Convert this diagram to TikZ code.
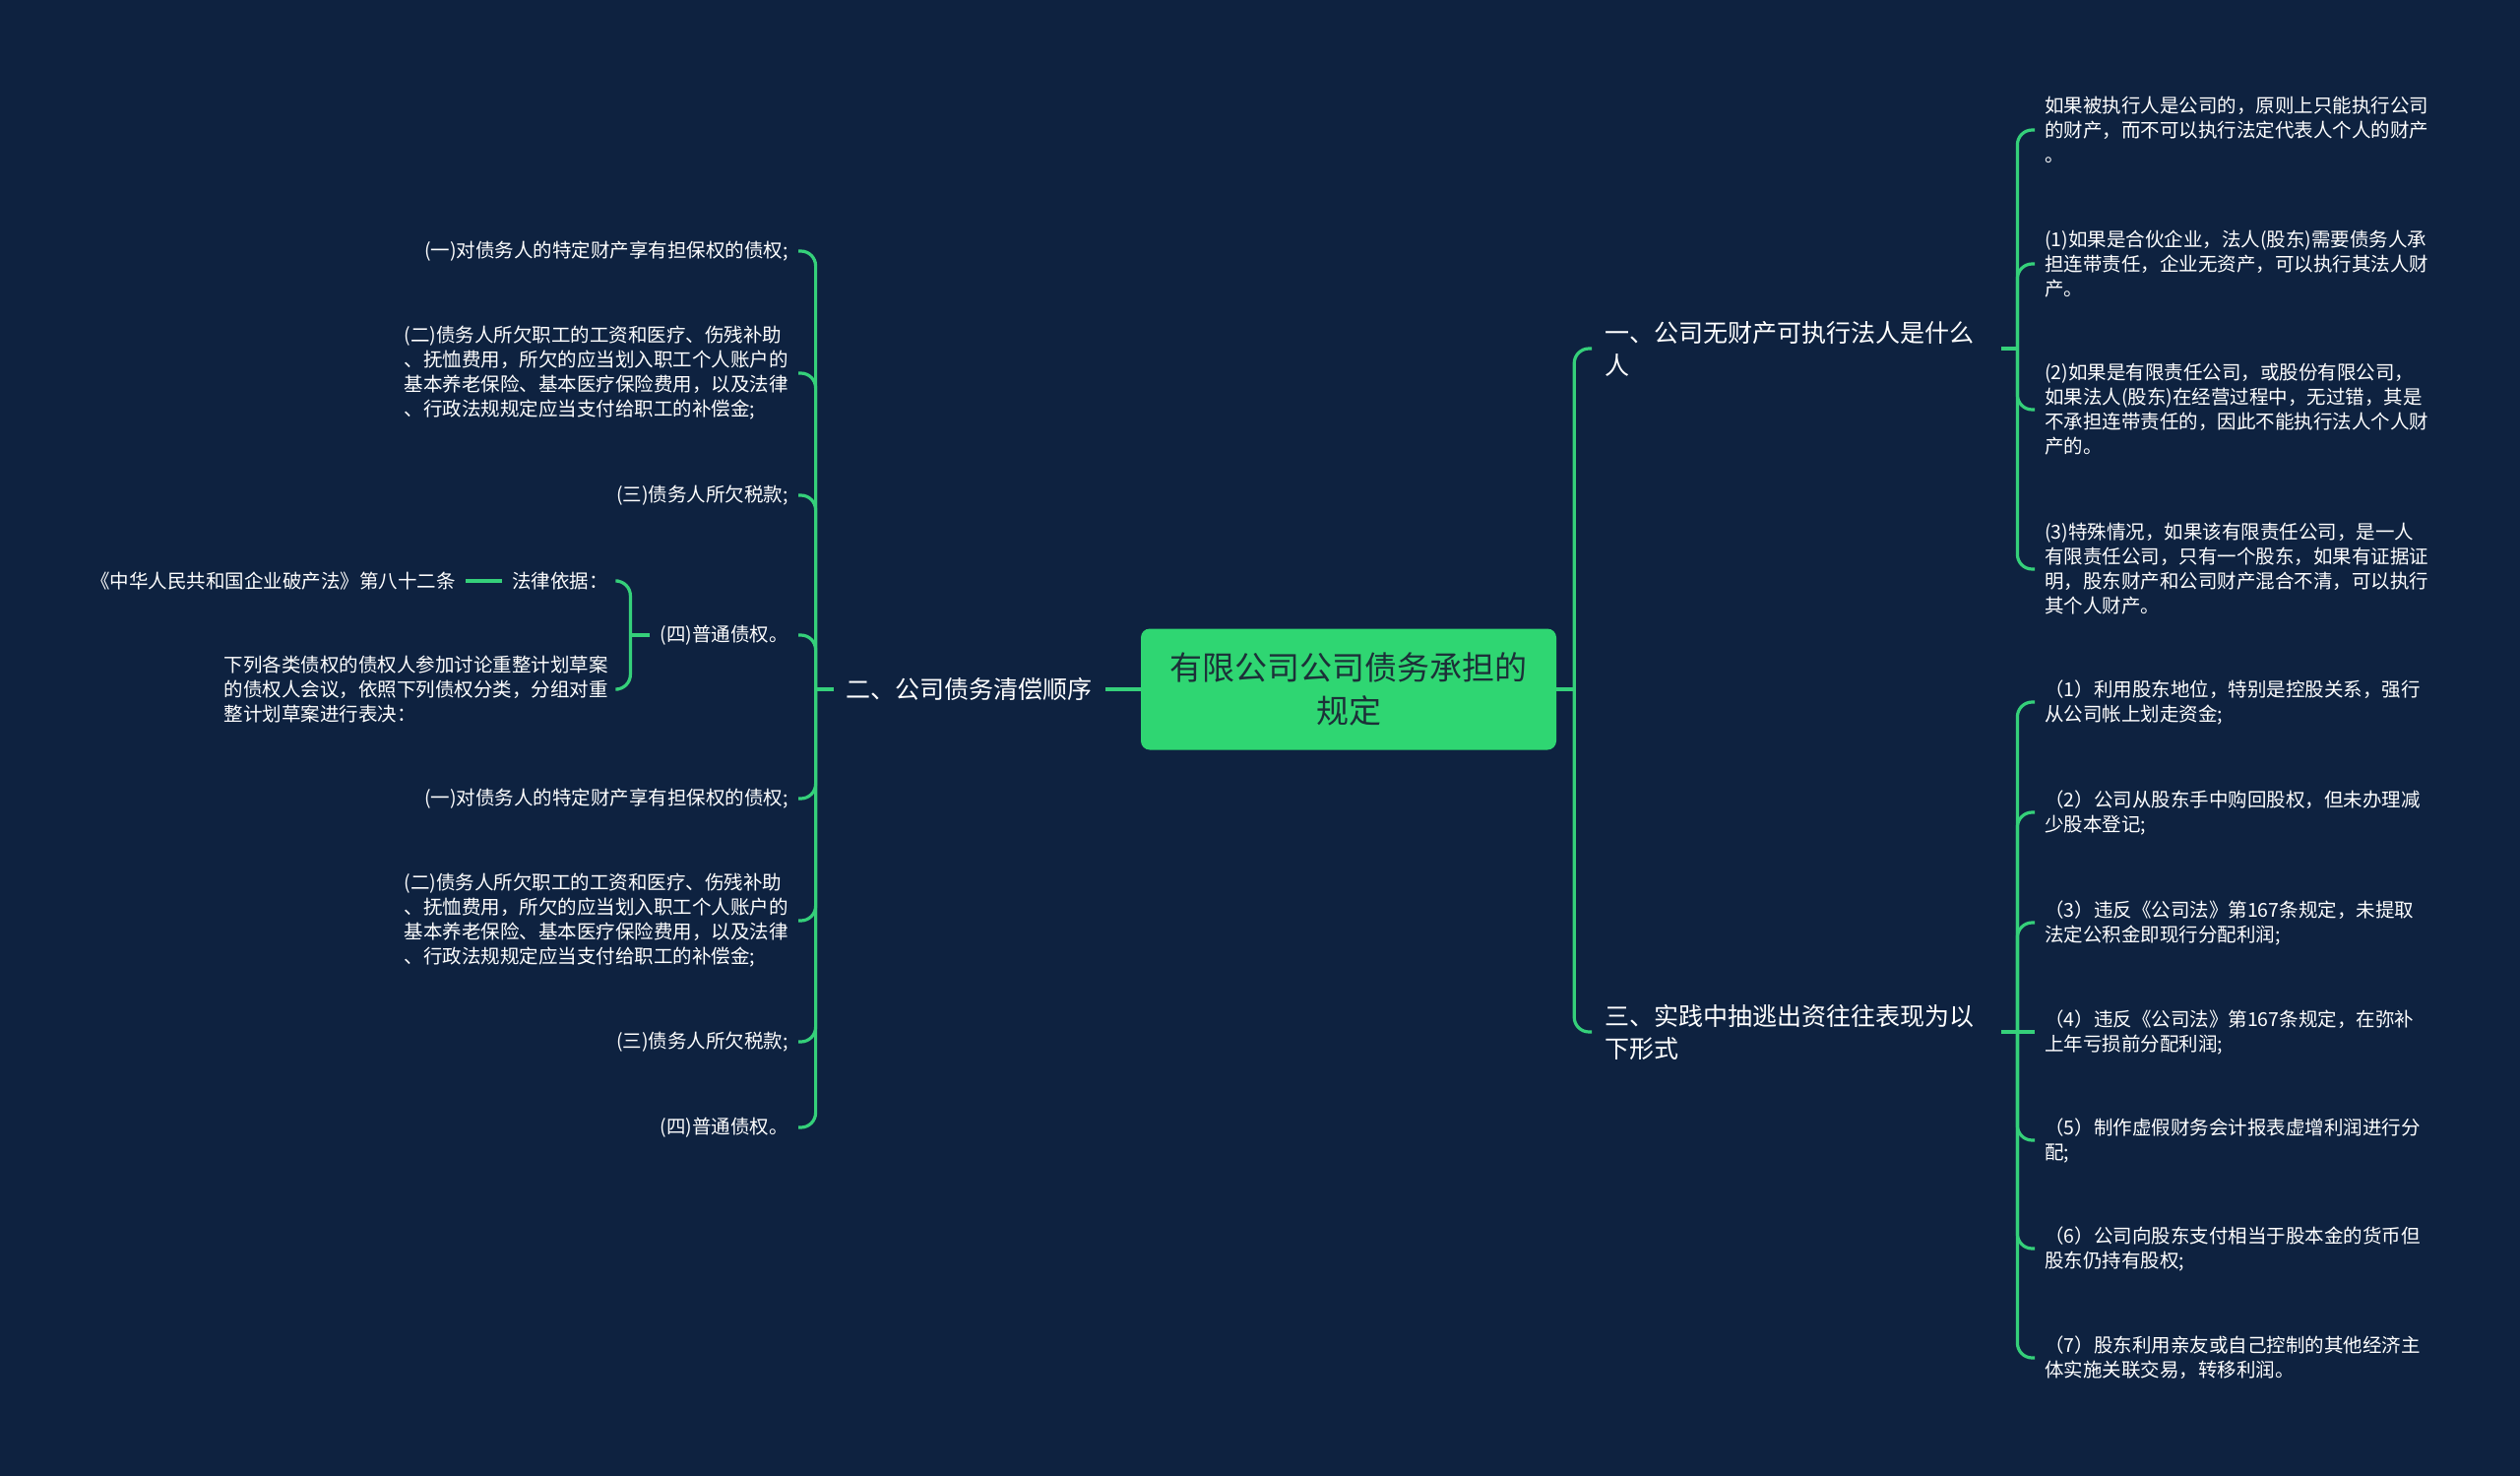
\documentclass[tikz,border=0pt]{standalone}
\usepackage{fontspec}
\setmainfont{Noto Sans CJK SC}
\definecolor{bg}{HTML}{0E2240}
\definecolor{lk}{HTML}{35D07A}
\definecolor{ctr}{HTML}{2FD672}
\definecolor{ctrtxt}{HTML}{1C3038}
\tikzset{
  link/.style={draw=lk, line width=3.2pt, rounded corners=15pt},
  stub/.style={draw=lk, line width=3.2pt},
  leaf/.style={text=white, font=\fontsize{19.5}{25}\selectfont, inner xsep=10pt, inner ysep=4pt, align=left},
  branch/.style={text=white, font=\fontsize{25}{33}\selectfont, inner xsep=13pt, inner ysep=4pt, align=left},
  root/.style={fill=ctr, rounded corners=9pt, minimum width=422pt, minimum height=123pt, text=ctrtxt, font=\fontsize{33}{44}\selectfont, align=center},
}
\begin{document}
\begin{tikzpicture}[x=1pt, y=-1pt]
\path[fill=bg] (0,0) rectangle (2560,1499);
\useasboundingbox (0,0) rectangle (2560,1499);

% root
\node[root] (root) at (1370,700) {有限公司公司债务承担的\\规定};

% right branches
\node[branch, anchor=west, text width=390pt] (b1) at (1617,354) {一、公司无财产可执行法人是什么\\人};
\node[branch, anchor=west, text width=390pt] (b3) at (1617,1048) {三、实践中抽逃出资往往表现为以\\下形式};
\coordinate (jr) at ([xshift=18pt]root.east);
\draw[stub] (root.east) -- (jr);
\draw[link] (jr) |- (b1.west);
\draw[link] (jr) |- (b3.west);

% branch 1 leaves
\coordinate (j1) at ([xshift=16pt]b1.east);
\draw[stub] (b1.east) -- (j1);
\node[leaf, anchor=west] (r11) at (2067,132) {如果被执行人是公司的，原则上只能执行公司\\的财产，而不可以执行法定代表人个人的财产\\。};
\node[leaf, anchor=west] (r12) at (2067,268) {(1)如果是合伙企业，法人(股东)需要债务人承\\担连带责任，企业无资产，可以执行其法人财\\产。};
\node[leaf, anchor=west] (r13) at (2067,416) {(2)如果是有限责任公司，或股份有限公司，\\如果法人(股东)在经营过程中，无过错，其是\\不承担连带责任的，因此不能执行法人个人财\\产的。};
\node[leaf, anchor=west] (r14) at (2067,578) {(3)特殊情况，如果该有限责任公司，是一人\\有限责任公司，只有一个股东，如果有证据证\\明，股东财产和公司财产混合不清，可以执行\\其个人财产。};
\foreach \n in {r11,r12,r13,r14} {\draw[link] (j1) |- (\n.west);}

% branch 3 leaves
\coordinate (j3) at ([xshift=16pt]b3.east);
\draw[stub] (b3.east) -- (j3);
\node[leaf, anchor=west] (r31) at (2067,713) {（1）利用股东地位，特别是控股关系，强行\\从公司帐上划走资金;};
\node[leaf, anchor=west] (r32) at (2067,825) {（2）公司从股东手中购回股权，但未办理减\\少股本登记;};
\node[leaf, anchor=west] (r33) at (2067,937) {（3）违反《公司法》第167条规定，未提取\\法定公积金即现行分配利润;};
\node[leaf, anchor=west] (r34) at (2067,1048) {（4）违反《公司法》第167条规定，在弥补\\上年亏损前分配利润;};
\node[leaf, anchor=west] (r35) at (2067,1158) {（5）制作虚假财务会计报表虚增利润进行分\\配;};
\node[leaf, anchor=west] (r36) at (2067,1268) {（6）公司向股东支付相当于股本金的货币但\\股东仍持有股权;};
\node[leaf, anchor=west] (r37) at (2067,1379) {（7）股东利用亲友或自己控制的其他经济主\\体实施关联交易，转移利润。};
\foreach \n in {r31,r32,r33,r35,r36,r37} {\draw[link] (j3) |- (\n.west);}
\draw[stub] (j3) -- (r34.west);

% left branch
\node[branch, anchor=east] (b2) at (1123,700) {二、公司债务清偿顺序};
\draw[stub] (root.west) -- (b2.east);
\coordinate (jl) at ([xshift=-18pt]b2.west);
\draw[stub] (b2.west) -- (jl);
\node[leaf, anchor=east] (l1) at (811,255) {(一)对债务人的特定财产享有担保权的债权;};
\node[leaf, anchor=east] (l2) at (811,379) {(二)债务人所欠职工的工资和医疗、伤残补助\\、抚恤费用，所欠的应当划入职工个人账户的\\基本养老保险、基本医疗保险费用，以及法律\\、行政法规规定应当支付给职工的补偿金;};
\node[leaf, anchor=east] (l3) at (811,503) {(三)债务人所欠税款;};
\node[leaf, anchor=east] (l4) at (811,645) {(四)普通债权。};
\node[leaf, anchor=east] (l5) at (811,811) {(一)对债务人的特定财产享有担保权的债权;};
\node[leaf, anchor=east] (l6) at (811,935) {(二)债务人所欠职工的工资和医疗、伤残补助\\、抚恤费用，所欠的应当划入职工个人账户的\\基本养老保险、基本医疗保险费用，以及法律\\、行政法规规定应当支付给职工的补偿金;};
\node[leaf, anchor=east] (l7) at (811,1058) {(三)债务人所欠税款;};
\node[leaf, anchor=east] (l8) at (811,1145) {(四)普通债权。};
\foreach \n in {l1,l2,l3,l4,l5,l6,l7,l8} {\draw[link] (jl) |- (\n.east);}

% sub branch of l4
\coordinate (j4) at ([xshift=-20pt]l4.west);
\draw[stub] (l4.west) -- (j4);
\node[leaf, anchor=east] (law) at (628,590) {法律依据：};
\node[leaf, anchor=east] (list) at (628,700) {下列各类债权的债权人参加讨论重整计划草案\\的债权人会议，依照下列债权分类，分组对重\\整计划草案进行表决：};
\draw[link] (j4) |- (law.east);
\draw[link] (j4) |- (list.east);
\node[leaf, anchor=east] (act) at (473,590) {《中华人民共和国企业破产法》第八十二条};
\draw[stub] (law.west) -- (act.east);
\end{tikzpicture}
\end{document}
